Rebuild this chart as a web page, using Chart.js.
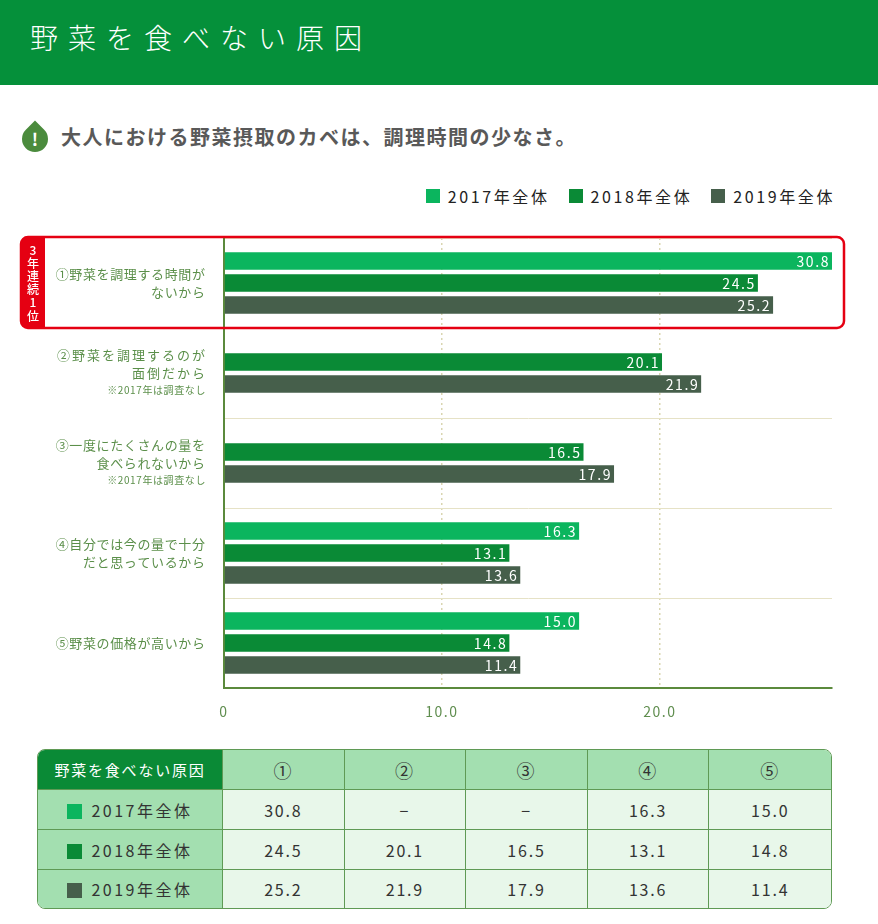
<!DOCTYPE html>
<html lang="ja">
<head>
<meta charset="UTF-8">
<title>野菜を食べない原因</title>
<script src="https://cdn.jsdelivr.net/npm/chart.js@4.4.1/dist/chart.umd.min.js"></script>
<style>
  * { box-sizing: border-box; }
  body {
    margin: 0;
    width: 878px;
    height: 924px;
    position: relative;
    overflow: hidden;
    background: #fff;
    font-family: "Noto Sans CJK JP", "Noto Sans", sans-serif;
  }
  .header {
    position: absolute;
    left: 0; top: 0;
    width: 878px; height: 85px;
    background: #05903a;
  }
  .header h1 {
    position: absolute;
    left: 30px; top: 18px;
    margin: 0;
    font-size: 28px;
    line-height: 38px;
    font-weight: 300;
    color: #fff;
    letter-spacing: 10px;
  }
  .lead-icon {
    position: absolute;
    left: 22px; top: 126px;
    width: 26px; height: 26px;
    background: #4b8b3d;
    border-radius: 0 50% 50% 50%;
    transform: rotate(45deg);
  }
  .lead-mark {
    position: absolute;
    left: 22px; top: 126px;
    width: 26px; height: 26px;
    line-height: 26px;
    text-align: center;
    color: #fff;
    font-weight: 700;
    font-size: 17px;
  }
  .lead {
    position: absolute;
    left: 61px; top: 123px;
    margin: 0;
    font-size: 20px;
    line-height: 28px;
    font-weight: 700;
    color: #595959;
    letter-spacing: 1.5px;
  }
  #legend {
    position: absolute;
    right: 43px; top: 184px;
    display: flex;
    gap: 19px;
  }
  .legend-item {
    display: flex;
    align-items: center;
    font-size: 16px;
    line-height: 24px;
    letter-spacing: 2.6px;
    color: #222;
  }
  .swatch {
    display: inline-block;
    width: 14px; height: 14px;
    margin-right: 8px;
  }
  .chart-wrap {
    position: absolute;
    left: 0; top: 228px;
    width: 878px; height: 502px;
  }
  table {
    position: absolute;
    left: 37px; top: 749px;
    width: 795px;
    border-collapse: separate;
    border-spacing: 0;
    border: 1px solid #5f9a55;
    border-radius: 8px;
    overflow: hidden;
    table-layout: fixed;
  }
  th, td {
    height: 40px;
    padding: 0;
    text-align: center;
    font-size: 16px;
    font-weight: 400;
    letter-spacing: 1.8px;
    color: #333;
    border-right: 1px solid #5f9a55;
    border-bottom: 1px solid #5f9a55;
    background: #e8f7ea;
  }
  tr > *:last-child { border-right: none; }
  tr:last-child > * { border-bottom: none; height: 38px; }
  th { background: #a3dfb0; font-size: 18px; }
  th.corner { background: #0a8a36; color: #fff; font-size: 15px; letter-spacing: 1.8px; }
  th.row-head { background: #a3dfb0; font-size: 16px; letter-spacing: 2.5px; }
  th.row-head .swatch { width: 15px; height: 15px; margin-right: 9px; vertical-align: -2px; }
</style>
</head>
<body>

<div class="header"><h1>野菜を食べない原因</h1></div>

<div class="lead-icon"></div>
<div class="lead-mark">!</div>
<p class="lead">大人における野菜摂取のカベは、調理時間の少なさ。</p>

<div id="legend"></div>

<div class="chart-wrap">
  <canvas id="reasonChart" width="878" height="502"></canvas>
</div>

<table id="reasonTable"></table>

<script>
// 原因（グラフの左側の文字）
const reasons = [
    ['①野菜を調理する時間が', 'ないから'],
    ['②野菜を調理するのが', '面倒だから'],
    ['③一度にたくさんの量を', '食べられないから'],
    ['④自分では今の量で十分', 'だと思っているから'],
    ['⑤野菜の価格が高いから']
];
const reasonNotes = ['', '※2017年は調査なし', '※2017年は調査なし', '', ''];
const tableHeads = ['①', '②', '③', '④', '⑤'];

const seriesNames = ['2017年全体', '2018年全体', '2019年全体'];
const seriesColors = ['#0bb55e', '#0a8a36', '#465f4b'];

// 表と棒の端に書いてある数値（%）
const values2017 = [30.8, null, null, 16.3, 15.0];
const values2018 = [24.5, 20.1, 16.5, 13.1, 14.8];
const values2019 = [25.2, 21.9, 17.9, 13.6, 11.4];

// 棒の長さ。元の図では⑤の棒が④と同じ長さで描かれているので、それに合わせる
const bars2017 = [30.8, null, null, 16.3, 16.3];
const bars2018 = [24.5, 20.1, 16.5, 13.1, 13.1];
const bars2019 = [25.2, 21.9, 17.9, 13.6, 13.6];

// X軸の目盛り
const xTicks = [0, 10, 20];
const xMax = 27.9;

const allValues = [values2017, values2018, values2019];
const allBars = [bars2017, bars2018, bars2019];

// 凡例をHTMLで作る
const legendBox = document.getElementById('legend');
seriesNames.forEach((name, i) => {
    const item = document.createElement('div');
    item.className = 'legend-item';
    item.innerHTML = `<span class="swatch" style="background:${seriesColors[i]}"></span>${name}`;
    legendBox.appendChild(item);
});

// 下の表
const table = document.getElementById('reasonTable');
let html = '<colgroup><col style="width:185px">' + tableHeads.map(() => '<col>').join('') + '</colgroup>';
html += '<tr><th class="corner">野菜を食べない原因</th>' + tableHeads.map(h => `<th>${h}</th>`).join('') + '</tr>';
seriesNames.forEach((name, i) => {
    html += `<tr><th class="row-head"><span class="swatch" style="background:${seriesColors[i]}"></span>${name}</th>`;
    html += allValues[i].map(v => `<td>${v === null ? '−' : v.toFixed(1)}</td>`).join('');
    html += '</tr>';
});
table.innerHTML = html;

// 棒の端に白い数値、左側に原因、1位の赤い枠を描くプラグイン
const decorPlugin = {
    id: 'decor',
    beforeDraw(chart) {
        chart.ctx.letterSpacing = '1.5px';
    },
    afterDatasetsDraw(chart) {
        const ctx = chart.ctx;
        const area = chart.chartArea;
        ctx.save();
        ctx.font = '14px "Noto Sans CJK JP"';
        ctx.letterSpacing = '1.6px';
        ctx.fillStyle = '#fff';
        ctx.textAlign = 'right';
        ctx.textBaseline = 'middle';
        chart.data.datasets.forEach((ds, di) => {
            const meta = chart.getDatasetMeta(di);
            meta.data.forEach((bar, i) => {
                const v = allValues[di][i];
                if (v === null || ds.data[i] === null) return;
                const xEnd = Math.min(bar.x, area.right);
                ctx.fillText(v.toFixed(1), xEnd - 2, bar.y + 1);
            });
        });
        ctx.restore();
    },
    afterDraw(chart) {
        const ctx = chart.ctx;
        const area = chart.chartArea;
        const yScale = chart.scales.y;
        ctx.save();

        // 原因の文字（1行目を150pxの幅にそろえて字間を決める）
        ctx.textAlign = 'right';
        ctx.textBaseline = 'middle';
        ctx.fillStyle = '#5b8f4a';
        reasons.forEach((lines, i) => {
            const cy = yScale.getPixelForValue(i);
            const note = reasonNotes[i];
            const total = lines.length * 18 + (note ? 17 : 0);
            let y = cy - total / 2 + 9;
            ctx.font = '13px "Noto Sans CJK JP"';
            ctx.letterSpacing = '0px';
            const w = ctx.measureText(lines[0]).width;
            const ls = Math.max(0.5, (150 - w) / lines[0].length);
            ctx.letterSpacing = ls + 'px';
            lines.forEach(line => {
                ctx.fillText(line, area.left - 19 + ls, y);
                y += 18;
            });
            if (note) {
                ctx.font = '10px "Noto Sans CJK JP"';
                ctx.letterSpacing = '0.6px';
                ctx.fillText(note, area.left - 18, y - 1);
            }
        });

        // 3年連続1位の赤い枠
        const c0 = yScale.getPixelForValue(0);
        const top = c0 - 46, bottom = c0 + 45;
        const left = 21, right = area.right + 12;
        ctx.fillStyle = '#e50012';
        ctx.beginPath();
        ctx.roundRect(left, top, 24, bottom - top, [7, 0, 0, 7]);
        ctx.fill();
        ctx.strokeStyle = '#e50012';
        ctx.lineWidth = 2.5;
        ctx.beginPath();
        ctx.roundRect(left, top, right - left, bottom - top, 7);
        ctx.stroke();

        const badge = ['3', '年', '連', '続', '1', '位'];
        ctx.fillStyle = '#fff';
        ctx.textAlign = 'center';
        ctx.font = '500 12px "Noto Sans CJK JP"';
        ctx.letterSpacing = '0px';
        badge.forEach((ch, k) => {
            ctx.fillText(ch, left + 12, c0 - 33 + k * 13.2);
        });
        ctx.restore();
    }
};

const datasets = seriesNames.map((name, i) => ({
    label: name,
    data: allBars[i],
    backgroundColor: seriesColors[i],
    borderColor: 'rgba(0,0,0,0)',
    // 上下に透明な枠を付けて、棒と棒の間にすき間を作る
    borderWidth: { top: 2.5, bottom: 2.5, left: 0, right: 0 },
    borderSkipped: false,
    barThickness: 22,
    skipNull: true
}));

new Chart(document.getElementById('reasonChart'), {
    type: 'bar',
    data: {
        labels: reasons.map(r => r.join('')),
        datasets: datasets
    },
    options: {
        indexAxis: 'y',
        responsive: false,
        animation: false,
        layout: {
            padding: { left: 224, right: 46, top: 10, bottom: 0 }
        },
        scales: {
            x: {
                min: 0,
                max: xMax,
                afterBuildTicks: s => { s.ticks = xTicks.map(v => ({ value: v })); },
                afterFit: s => { s.height = 42; },
                ticks: {
                    color: '#5f8d4e',
                    font: { family: 'Noto Sans CJK JP', size: 14 },
                    padding: 15,
                    maxRotation: 0,
                    callback: v => v === 0 ? '0' : v.toFixed(1)
                },
                grid: {
                    drawTicks: false,
                    color: c => (c.tick && c.tick.value > 0) ? '#d9d5b0' : 'rgba(0,0,0,0)',
                    lineWidth: 1.5
                },
                border: { color: '#5b8a3c', width: 2, dash: [2, 3] }
            },
            y: {
                afterFit: s => { s.width = 0; },
                ticks: { display: false },
                grid: {
                    drawTicks: false,
                    color: '#e6e2c6',
                    lineWidth: 1
                },
                border: { color: '#5b8a3c', width: 2 }
            }
        },
        plugins: {
            legend: { display: false },
            tooltip: { enabled: false }
        }
    },
    plugins: [decorPlugin]
});
</script>
</body>
</html>
